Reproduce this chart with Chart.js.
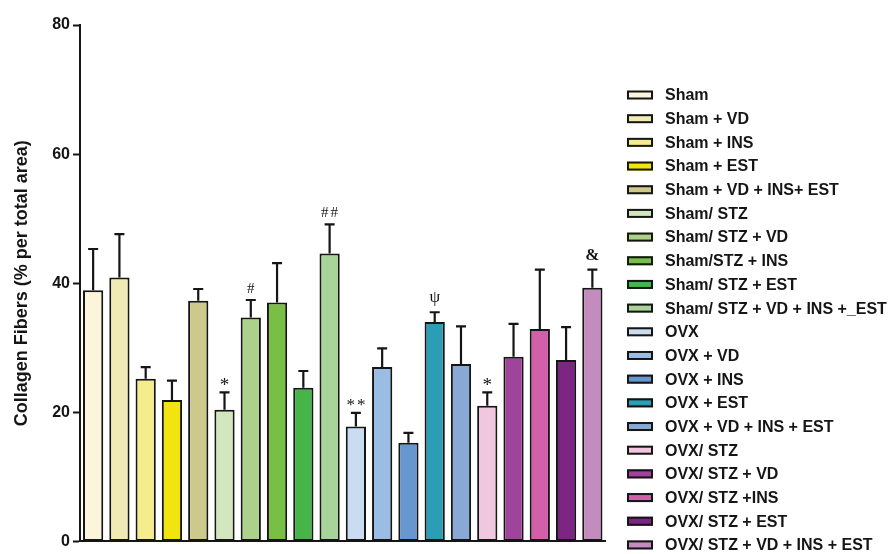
<!DOCTYPE html>
<html>
<head>
<meta charset="utf-8">
<title>Collagen Fibers</title>
<script src="https://cdn.jsdelivr.net/npm/chart.js@4.4.1/dist/chart.umd.min.js"></script>
<style>
  html, body { margin: 0; padding: 0; background: #ffffff; }
  #wrap { width: 892px; height: 554px; }
</style>
</head>
<body>
<div id="wrap"><canvas id="chart" width="892" height="554"></canvas></div>
<script>
// Treatment groups, in plotting order
const groups = [
  'Sham', 'Sham + VD', 'Sham + INS', 'Sham + EST', 'Sham + VD + INS+ EST',
  'Sham/ STZ', 'Sham/ STZ + VD', 'Sham/STZ + INS', 'Sham/ STZ + EST', 'Sham/ STZ + VD + INS +_EST',
  'OVX', 'OVX + VD', 'OVX + INS', 'OVX + EST', 'OVX + VD + INS + EST',
  'OVX/ STZ', 'OVX/ STZ + VD', 'OVX/ STZ +INS', 'OVX/ STZ + EST', 'OVX/ STZ + VD + INS + EST'
];

// Mean collagen fibre area (% per total area)
const means = [
  38.9, 40.9, 25.2, 21.9, 37.3,
  20.4, 34.7, 37.0, 23.8, 44.6,
  17.8, 27.0, 15.3, 34.0, 27.5,
  21.0, 28.6, 32.9, 28.1, 39.3
];

// Upper error (SEM)
const errors = [
  6.4, 6.7, 1.8, 3.0, 1.8,
  2.7, 2.7, 6.1, 2.6, 4.5,
  2.1, 2.9, 1.5, 1.5, 5.8,
  2.1, 5.1, 9.2, 5.1, 2.8
];

// Significance marks shown above the error bars
const marks = [
  '', '', '', '', '',
  '*', '#', '', '', '##',
  '**', '', '', '\u03C8', '',
  '*', '', '', '', '&'
];

// Axis ticks
const yTicks = [0, 20, 40, 60, 80];

const fills = [
  '#fbf5dc', '#f0ebb4', '#f5ec8e', '#f2e50f', '#cdc98a',
  '#d3e7be', '#acd18b', '#7abf45', '#45b54a', '#a8d49a',
  '#c9dcf0', '#9bbde4', '#6896cf', '#2b9db4', '#8aa8d5',
  '#f1c6df', '#a0439b', '#d160a8', '#7b2683', '#c48bbf'
];

const INK = '#151515';
const SANS = '"Liberation Sans", Arial, Helvetica, sans-serif';
const SERIF = '"Liberation Serif", "Times New Roman", serif';

// Font and clearance for each kind of significance symbol
function markStyle(m) {
  if (m.indexOf('*') >= 0) return { font: (m.length > 1 ? '17px ' : '19px ') + SERIF, gap: 7 };
  if (m === '&') return { font: 'bold 17px ' + SERIF, gap: 10 };
  if (m === '\u03C8') return { font: '17px ' + SERIF, gap: 6 };
  return { font: '15px ' + SERIF, gap: 7 };
}

// Upward error bars with caps, plus significance symbols
const errorBars = {
  id: 'errorBars',
  afterDatasetsDraw(chart) {
    const ctx = chart.ctx;
    const meta = chart.getDatasetMeta(0);
    const y = chart.scales.y;
    ctx.save();
    ctx.strokeStyle = INK;
    ctx.lineWidth = 2.2;
    meta.data.forEach((bar, i) => {
      const top = y.getPixelForValue(means[i] + errors[i]);
      ctx.beginPath();
      ctx.moveTo(bar.x, bar.y);
      ctx.lineTo(bar.x, top);
      ctx.moveTo(bar.x - 5, top);
      ctx.lineTo(bar.x + 5, top);
      ctx.stroke();
      const m = marks[i];
      if (m) {
        const st = markStyle(m);
        ctx.fillStyle = INK;
        ctx.font = st.font;
        if ('letterSpacing' in ctx) ctx.letterSpacing = m.length > 1 ? '2px' : '0px';
        ctx.textAlign = 'center';
        ctx.textBaseline = 'alphabetic';
        const box = ctx.measureText(m);
        const baseY = top - st.gap - box.actualBoundingBoxDescent;
        ctx.fillText(m, bar.x + (m.length > 1 ? 1 : 0), baseY);
      }
    });
    ctx.restore();
  }
};

// Legend column on the right of the plot
const sideLegend = {
  id: 'sideLegend',
  afterDraw(chart) {
    const ctx = chart.ctx;
    const area = chart.chartArea;
    const boxX = area.right + 21.5;
    const boxW = 26, boxH = 9;
    const firstRow = 95, rowGap = 23.68;
    ctx.save();
    ctx.font = 'bold 16px ' + SANS;
    ctx.textAlign = 'left';
    ctx.textBaseline = 'middle';
    groups.forEach((name, i) => {
      const cy = firstRow + i * rowGap;
      ctx.fillStyle = fills[i];
      ctx.fillRect(boxX, cy - boxH / 2, boxW, boxH);
      ctx.strokeStyle = INK;
      ctx.lineWidth = 2;
      ctx.strokeRect(boxX + 1, cy - boxH / 2 + 1, boxW - 2, boxH - 2);
      ctx.fillStyle = INK;
      ctx.fillText(name, boxX + 38, cy + 1);
    });
    ctx.restore();
  }
};

new Chart(document.getElementById('chart'), {
  type: 'bar',
  data: {
    labels: groups,
    datasets: [{
      data: means,
      backgroundColor: fills,
      borderColor: INK,
      borderWidth: 2,
      borderSkipped: false,
      barPercentage: 0.77,
      categoryPercentage: 1.0
    }]
  },
  options: {
    responsive: false,
    animation: false,
    devicePixelRatio: 1,
    layout: { padding: { top: 25, right: 286.5, bottom: 3, left: 0 } },
    plugins: {
      legend: { display: false },
      tooltip: { enabled: false }
    },
    scales: {
      x: {
        grid: { display: false },
        ticks: { display: false },
        border: { display: true, color: INK, width: 2 },
        afterFit(scale) { scale.height = 0; }
      },
      y: {
        min: yTicks[0],
        max: yTicks[yTicks.length - 1],
        afterBuildTicks(scale) { scale.ticks = yTicks.map(v => ({ value: v })); },
        afterFit(scale) { scale.width = 80; },
        grid: {
          drawOnChartArea: false,
          drawTicks: true,
          tickLength: 7,
          tickWidth: 2,
          tickColor: INK
        },
        border: { display: true, color: INK, width: 2 },
        ticks: {
          color: INK,
          padding: 3,
          font: { family: SANS, size: 16, weight: 'bold' }
        },
        title: {
          display: true,
          text: 'Collagen Fibers (% per total area)',
          color: INK,
          font: { family: SANS, size: 18, weight: 'bold' },
          padding: { top: 11, bottom: 0 }
        }
      }
    }
  },
  plugins: [errorBars, sideLegend]
});
</script>
</body>
</html>
